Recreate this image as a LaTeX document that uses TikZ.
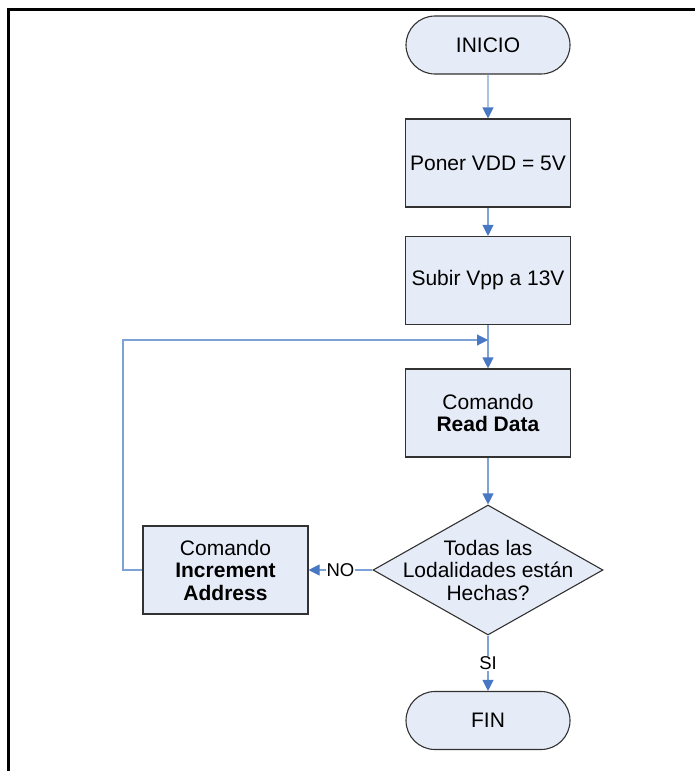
\documentclass[tikz,border=0pt]{standalone}
\usepackage{fontspec}
\setmainfont{Liberation Sans}
\usetikzlibrary{shapes.geometric,shapes.misc,arrows.meta}
\definecolor{boxfill}{RGB}{230,236,247}
\definecolor{boxline}{RGB}{50,50,50}
\definecolor{flowline}{RGB}{125,162,214}
\definecolor{headblue}{RGB}{72,120,196}
\tikzset{
  base/.style={draw=boxline, fill=boxfill, line width=1.1pt, align=center,
    font=\fontsize{21}{22.5}\selectfont, inner sep=0pt},
  terminal/.style={base, rounded rectangle, minimum width=164pt, minimum height=58pt},
  process/.style={base, rectangle, minimum width=165pt, minimum height=88pt},
  decision/.style={base, diamond, minimum width=230pt, minimum height=130pt},
  flow/.style={draw=flowline, line width=1.1pt,
    -{Triangle[length=11pt,width=11pt,color=headblue]}},
  tag/.style={fill=white, inner sep=1pt, font=\fontsize{18.5}{20}\selectfont}
}
\begin{document}
\begin{tikzpicture}[x=1pt,y=-1pt]
  \useasboundingbox (0,0) rectangle (695,771);
  % page frame
  \draw[line width=3pt] (8.5,771) -- (8.5,9.5) -- (695,9.5);

  \node[terminal] (inicio) at (488,45) {INICIO};
  \node[process] (vdd) at (488,163) {Poner VDD = 5V};
  \node[process] (vpp) at (488,280.5) {Subir Vpp a 13V};
  \node[process] (read) at (488,413) {Comando\\\textbf{Read Data}};
  \node[decision, label={[align=center, font=\fontsize{21}{22.5}\selectfont]center:Todas las\\Lodalidades están\\Hechas?}] (dec) at (488,570) {};
  \node[process] (inc) at (225.5,570) {Comando\\\textbf{Increment}\\\textbf{Address}};
  \node[terminal] (fin) at (488,720.5) {FIN};

  \coordinate (loopL) at (123,570);
  \coordinate (loopT) at (123,340);
  \coordinate (join) at (488,340);

  \draw[flow] (inicio) -- (vdd);
  \draw[flow] (vdd) -- (vpp);
  \draw[flow] (vpp) -- (read);
  \draw[flow] (read) -- (dec);
  \draw[flow] (dec.west) -- node[tag, pos=0.5] {NO} (inc.east);
  \draw[flow] (dec.south) -- node[tag, pos=0.5] {SI} (fin.north);
  \draw[flow] (inc.west) -- (loopL) -- (loopT) -- (join);
\end{tikzpicture}
\end{document}
